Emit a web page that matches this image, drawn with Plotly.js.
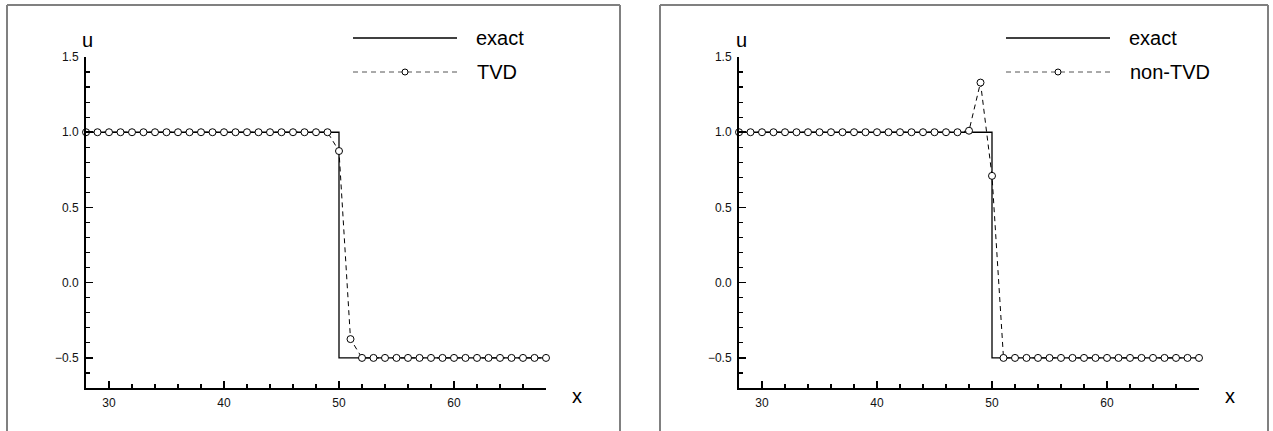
<!DOCTYPE html>
<html>
<head>
<meta charset="utf-8">
<script src="https://cdn.plot.ly/plotly-3.0.1.min.js"></script>
<style>
  html, body { margin: 0; padding: 0; background: #fff; }
  #chart { width: 1273px; height: 431px; }
</style>
</head>
<body>
<div id="chart"></div>
<script>
// grid points 28..68
const xGrid = [28, 29, 30, 31, 32, 33, 34, 35, 36, 37, 38, 39, 40, 41, 42, 43, 44, 45, 46, 47, 48,
               49, 50, 51, 52, 53, 54, 55, 56, 57, 58, 59, 60, 61, 62, 63, 64, 65, 66, 67, 68];

// exact solution (step at x = 50)
const exactX = [28, 50, 50, 68];
const exactU = [1.0, 1.0, -0.5, -0.5];

// TVD scheme
const tvdU = [1, 1, 1, 1, 1, 1, 1, 1, 1, 1, 1, 1, 1, 1, 1, 1, 1, 1, 1, 1, 1,
              1, 0.875, -0.375, -0.5, -0.5, -0.5, -0.5, -0.5, -0.5, -0.5, -0.5, -0.5, -0.5, -0.5,
              -0.5, -0.5, -0.5, -0.5, -0.5, -0.5];

// non-TVD scheme
const nonTvdU = [1, 1, 1, 1, 1, 1, 1, 1, 1, 1, 1, 1, 1, 1, 1, 1, 1, 1, 1, 1, 1.01,
                 1.33, 0.71, -0.5, -0.5, -0.5, -0.5, -0.5, -0.5, -0.5, -0.5, -0.5, -0.5, -0.5, -0.5,
                 -0.5, -0.5, -0.5, -0.5, -0.5, -0.5];

const panelNames = ['TVD', 'non-TVD'];
const xTicks = [30, 40, 50, 60];

const W = 1273, H = 431;
const px = x => x / W;
const py = y => 1 - y / H;

// panel offset in pixels (right panel is shifted)
const shift = 653;
const tickFont = { family: 'Liberation Sans, Arial, sans-serif', size: 12, color: '#111' };
const bigFont = { family: 'Liberation Sans, Arial, sans-serif', size: 20, color: '#000' };

function makeXAxis(dom) {
    return {
        domain: dom, range: [28, 68], showgrid: false, zeroline: false,
        showline: true, linecolor: '#000', linewidth: 2,
        ticks: 'inside', ticklen: 7, tickwidth: 1.5, tickcolor: '#000',
        tickvals: xTicks, tickfont: tickFont, ticklabelstandoff: 3,
        minor: { dtick: 2, tick0: 0, ticks: 'inside', ticklen: 4, tickwidth: 1.2, tickcolor: '#000' },
        fixedrange: true
    };
}

function makeYAxis(anchor) {
    return {
        domain: [py(388), py(57)], range: [-0.7, 1.5], anchor: anchor,
        showgrid: false, zeroline: false,
        showline: true, linecolor: '#000', linewidth: 2,
        ticks: 'inside', ticklen: 7, tickwidth: 1.5, tickcolor: '#000',
        dtick: 0.5, tick0: 0, tickformat: '.1f', tickfont: tickFont, ticklabelstandoff: 3,
        minor: { dtick: 0.1, tick0: 0, ticks: 'inside', ticklen: 4, tickwidth: 1.2, tickcolor: '#000' },
        fixedrange: true
    };
}

const markerStyle = { symbol: 'circle', size: 7, color: '#fff', line: { color: '#000', width: 1 } };

let traces = [];
[tvdU, nonTvdU].forEach((u, i) => {
    let xa = i === 0 ? 'x' : 'x2';
    let ya = i === 0 ? 'y' : 'y2';
    traces.push({
        x: exactX, y: exactU, xaxis: xa, yaxis: ya,
        mode: 'lines', line: { color: '#000', width: 1.3 },
        showlegend: false, hoverinfo: 'skip'
    });
    traces.push({
        x: xGrid, y: u, xaxis: xa, yaxis: ya,
        mode: 'lines+markers', line: { color: '#000', width: 1, dash: '5px,4px' },
        marker: markerStyle, showlegend: false, hoverinfo: 'skip', cliponaxis: false
    });
});

let shapes = [];
let annotations = [];
[0, 1].forEach(i => {
    let o = i * shift;
    // panel frame (open at the bottom, cut by the image edge)
    let fx0 = 7 + o, fx1 = (i === 0 ? 620 : 1268);
    let frame = { color: '#808080', width: 2 };
    shapes.push({ type: 'line', xref: 'paper', yref: 'paper', x0: px(fx0), x1: px(fx1), y0: py(5), y1: py(5), line: frame });
    shapes.push({ type: 'line', xref: 'paper', yref: 'paper', x0: px(fx0), x1: px(fx0), y0: py(5), y1: py(440), line: frame });
    shapes.push({ type: 'line', xref: 'paper', yref: 'paper', x0: px(fx1), x1: px(fx1), y0: py(5), y1: py(440), line: frame });

    // legend
    shapes.push({ type: 'line', xref: 'paper', yref: 'paper', x0: px(353 + o), x1: px(457 + o), y0: py(38), y1: py(38),
                  line: { color: '#000', width: 1.3 } });
    shapes.push({ type: 'line', xref: 'paper', yref: 'paper', x0: px(353 + o), x1: px(457 + o), y0: py(72), y1: py(72),
                  line: { color: '#555', width: 1, dash: '5px,4px' } });
    shapes.push({ type: 'circle', xref: 'paper', yref: 'paper', x0: px(402 + o), x1: px(408 + o), y0: py(69), y1: py(75),
                  line: { color: '#000', width: 1 }, fillcolor: '#fff' });
    annotations.push({ xref: 'paper', yref: 'paper', x: px(474 + o), y: py(38), xanchor: 'left', yanchor: 'middle',
                       text: 'exact', showarrow: false, font: bigFont });
    annotations.push({ xref: 'paper', yref: 'paper', x: px(475 + o), y: py(72), xanchor: 'left', yanchor: 'middle',
                       text: panelNames[i], showarrow: false, font: bigFont });

    // axis titles
    annotations.push({ xref: 'paper', yref: 'paper', x: px(88 + o), y: py(40), xanchor: 'center', yanchor: 'middle',
                       text: 'u', showarrow: false, font: bigFont });
    annotations.push({ xref: 'paper', yref: 'paper', x: px(577 + o), y: py(396), xanchor: 'center', yanchor: 'middle',
                       text: 'x', showarrow: false, font: bigFont });
});

let layout = {
    width: W, height: H,
    margin: { l: 0, r: 0, t: 0, b: 0 },
    paper_bgcolor: '#fff', plot_bgcolor: '#fff',
    showlegend: false,
    xaxis: makeXAxis([px(86), px(546)]),
    yaxis: makeYAxis('x'),
    xaxis2: makeXAxis([px(86 + shift), px(546 + shift)]),
    yaxis2: makeYAxis('x2'),
    shapes: shapes,
    annotations: annotations
};
layout.xaxis.anchor = 'y';
layout.xaxis2.anchor = 'y2';

Plotly.newPlot('chart', traces, layout, { staticPlot: true });
</script>
</body>
</html>
